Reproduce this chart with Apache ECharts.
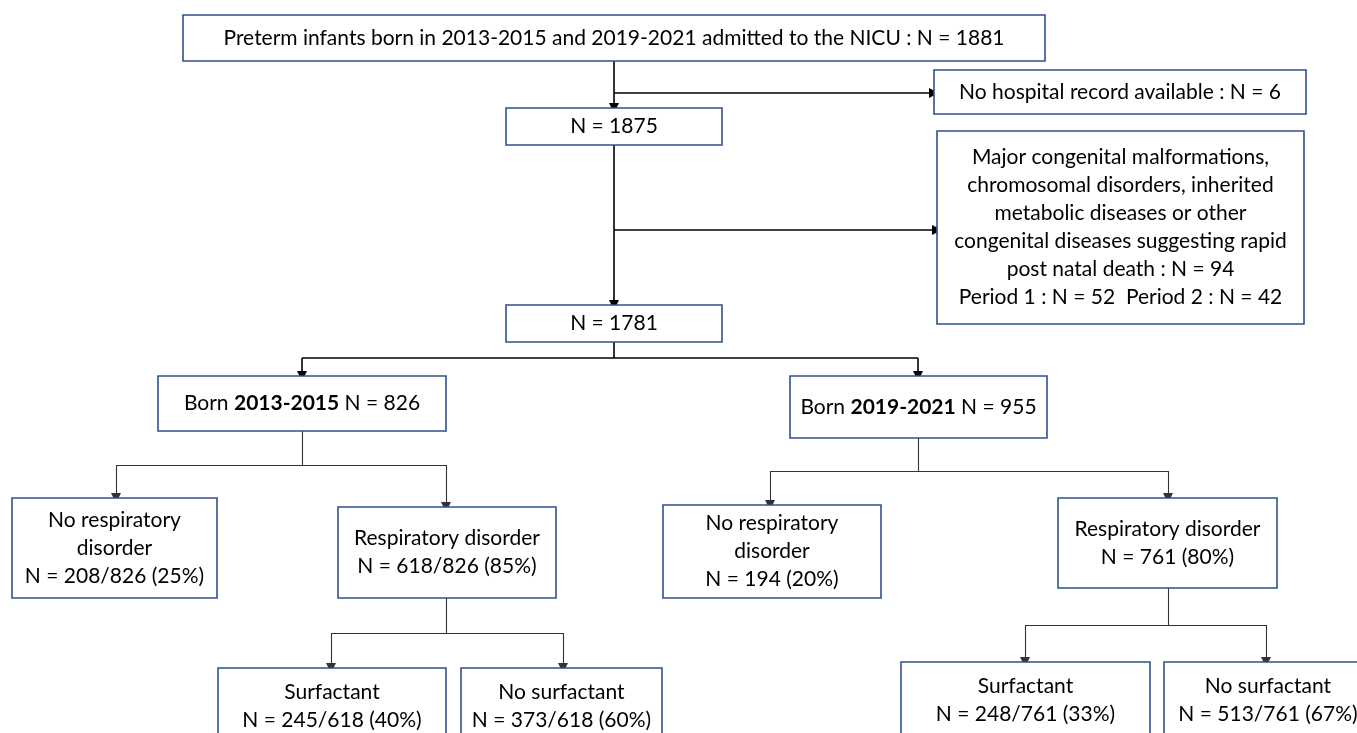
<!DOCTYPE html>
<html>
<head>
<meta charset="utf-8">
<title>Flow chart</title>
<script src="https://cdn.jsdelivr.net/npm/echarts@6/dist/echarts.min.js"></script>
<style>
  html, body { margin: 0; padding: 0; background: #fff; }
  #flow { width: 1357px; height: 733px; }
</style>
</head>
<body>
<div id="flow"></div>
<script>
// ---- data ----
var admitted = 1881;
var noRecord = 6;
var afterRecord = 1875;
var excluded = 94;
var excludedByPeriod = [52, 42];
var included = 1781;
var periods = ['2013-2015', '2019-2021'];
var periodN = [826, 955];
var noRespN = [208, 194];
var noRespPct = [25, 20];
var respN = [618, 761];
var respPct = [85, 80];
var surfN = [245, 248];
var surfPct = [40, 33];
var noSurfN = [373, 513];
var noSurfPct = [60, 67];

// ---- box texts ----
var labels = [
  'Preterm infants born in 2013-2015 and 2019-2021 admitted to the NICU : N = ' + admitted,
  'No hospital record available : N = ' + noRecord,
  'N = ' + afterRecord,
  'Major congenital malformations,\nchromosomal disorders, inherited\nmetabolic diseases or other\ncongenital diseases suggesting rapid\npost natal death : N = ' + excluded +
    '\nPeriod 1 : N = ' + excludedByPeriod[0] + '  Period 2 : N = ' + excludedByPeriod[1],
  'N = ' + included,
  'Born {b|' + periods[0] + '} N = ' + periodN[0],
  'Born {b|' + periods[1] + '} N = ' + periodN[1],
  'No respiratory\ndisorder\nN = ' + noRespN[0] + '/' + periodN[0] + ' (' + noRespPct[0] + '%)',
  'Respiratory disorder\nN = ' + respN[0] + '/' + periodN[0] + ' (' + respPct[0] + '%)',
  'No respiratory\ndisorder\nN = ' + noRespN[1] + ' (' + noRespPct[1] + '%)',
  'Respiratory disorder\nN = ' + respN[1] + ' (' + respPct[1] + '%)',
  'Surfactant\nN = ' + surfN[0] + '/' + respN[0] + ' (' + surfPct[0] + '%)',
  'No surfactant\nN = ' + noSurfN[0] + '/' + respN[0] + ' (' + noSurfPct[0] + '%)',
  'Surfactant\nN = ' + surfN[1] + '/' + respN[1] + ' (' + surfPct[1] + '%)',
  'No surfactant\nN = ' + noSurfN[1] + '/' + respN[1] + ' (' + noSurfPct[1] + '%)'
];

// ---- layout (x0, y0, x1, y1 in chart units) ----
var boxes = [
  [183, 15, 1045, 61],
  [934, 70, 1306, 114],
  [506, 108, 722, 145],
  [937, 131, 1304, 324],
  [506, 305, 722, 342],
  [158, 376, 446, 431],
  [790, 376, 1047, 438],
  [12, 498, 217, 598],
  [338, 507, 556, 598],
  [663, 505, 881, 598],
  [1058, 498, 1277, 588],
  [218, 668, 446, 744],
  [461, 668, 662, 744],
  [901, 662, 1150, 738],
  [1164, 662, 1372, 738]
];

// connectors: [points, heavy?] - the last leg ends with an arrow head
var links = [
  [[[614, 61], [614, 108]], true],
  [[[614, 93], [934, 93]], true],
  [[[614, 145], [614, 305]], true],
  [[[614, 230], [937, 230]], true],
  [[[614, 342], [614, 358], [302, 358], [302, 376]], true],
  [[[614, 358], [918, 358], [918, 376]], true],
  [[[302, 431], [302, 465], [116, 465], [116, 498]], false],
  [[[302, 465], [446, 465], [446, 507]], false],
  [[[918, 438], [918, 471], [770, 471], [770, 505]], false],
  [[[918, 471], [1168, 471], [1168, 498]], false],
  [[[446, 598], [446, 633], [331, 633], [331, 668]], false],
  [[[446, 633], [563, 633], [563, 668]], false],
  [[[1168, 588], [1168, 625], [1025, 625], [1025, 662]], false],
  [[[1168, 625], [1266, 625], [1266, 662]], false]
];

var FONT = "Lato, 'Open Sans', sans-serif";

var boxData = boxes.map(function (b, i) {
  return [b[0], b[1], b[2], b[3], i];
});

// split each connector into plain legs and one arrow leg
var plainLegs = [];
var arrowLegs = [];
links.forEach(function (l) {
  var pts = l[0];
  var ls = { width: l[1] ? 1.6 : 1.1, color: l[1] ? '#000' : '#333', opacity: 1 };
  for (var i = 0; i < pts.length - 1; i++) {
    var item = { coords: [pts[i], pts[i + 1]], lineStyle: ls };
    if (i === pts.length - 2) arrowLegs.push(item);
    else plainLegs.push(item);
  }
});

var option = {
  animation: false,
  backgroundColor: '#fff',
  grid: { left: 0, right: 0, top: 0, bottom: 0 },
  xAxis: { type: 'value', min: 0, max: 1357, show: false },
  yAxis: { type: 'value', min: 0, max: 733, inverse: true, show: false },
  series: [
    {
      type: 'lines',
      coordinateSystem: 'cartesian2d',
      symbol: ['none', 'none'],
      silent: true,
      z: 1,
      lineStyle: { color: '#000', opacity: 1 },
      data: plainLegs
    },
    {
      type: 'lines',
      coordinateSystem: 'cartesian2d',
      symbol: ['none', 'triangle'],
      symbolSize: 10,
      silent: true,
      z: 1,
      lineStyle: { color: '#000', opacity: 1 },
      data: arrowLegs
    },
    {
      type: 'custom',
      coordinateSystem: 'cartesian2d',
      z: 2,
      data: boxData,
      renderItem: function (params, api) {
        var p0 = api.coord([api.value(0), api.value(1)]);
        var p1 = api.coord([api.value(2), api.value(3)]);
        var idx = api.value(4);
        return {
          type: 'group',
          children: [
            {
              type: 'rect',
              shape: { x: p0[0], y: p0[1], width: p1[0] - p0[0], height: p1[1] - p0[1] },
              style: { fill: '#fff', stroke: '#2F528F', lineWidth: 1.6 }
            },
            {
              type: 'text',
              x: (p0[0] + p1[0]) / 2,
              y: (p0[1] + p1[1]) / 2,
              style: {
                text: labels[idx],
                fill: '#000',
                fontFamily: FONT,
                fontSize: 21,
                lineHeight: 28,
                align: 'center',
                verticalAlign: 'middle',
                rich: {
                  b: { fontWeight: 'bold', fontFamily: FONT, fontSize: 21 }
                }
              }
            }
          ]
        };
      }
    }
  ]
};

echarts.init(document.getElementById('flow')).setOption(option);
</script>
</body>
</html>
